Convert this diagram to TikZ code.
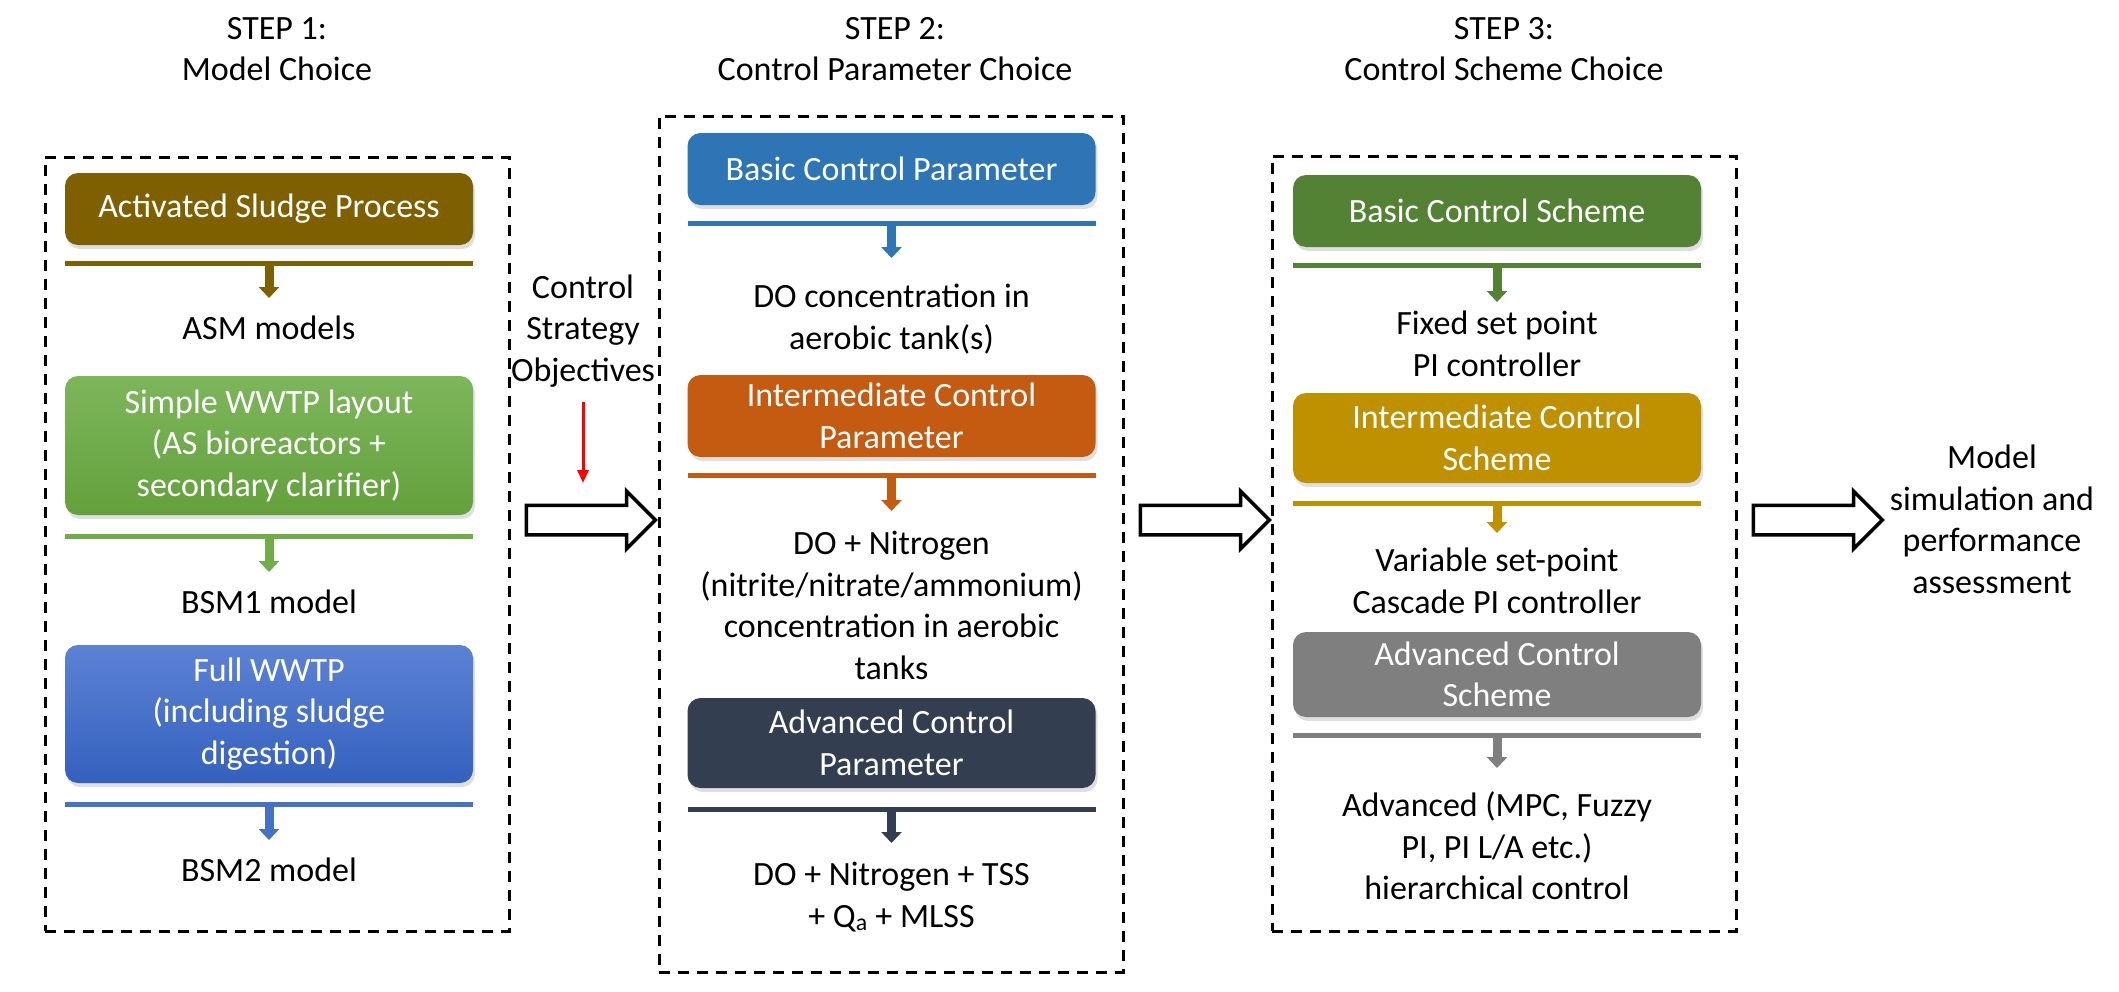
\documentclass[tikz,border=0pt]{standalone}
\usepackage{fontspec}
\setmainfont{Carlito}
\usetikzlibrary{arrows.meta,shapes.arrows,shadows}
\definecolor{cA}{HTML}{7F6000}
\definecolor{cBt}{HTML}{7DB65B}
\definecolor{cBb}{HTML}{63A13C}
\definecolor{cB}{HTML}{70AD47}
\definecolor{cCt}{HTML}{5C82D4}
\definecolor{cCb}{HTML}{3461BE}
\definecolor{cC}{HTML}{4472C4}
\definecolor{cD}{HTML}{2E75B6}
\definecolor{cE}{HTML}{C55A11}
\definecolor{cF}{HTML}{333F50}
\definecolor{cG}{HTML}{548235}
\definecolor{cH}{HTML}{BF9000}
\definecolor{cI}{HTML}{7F7F7F}
\definecolor{cRed}{HTML}{FF0000}
\begin{document}
\begin{tikzpicture}[x=1pt,y=-1pt,
  every node/.style={font=\fontsize{34}{41.5}\selectfont},
  frame/.style={draw=black, line width=3pt, dash pattern=on 11pt off 8pt, inner sep=0pt},
  cbox/.style={rounded corners=13pt, minimum width=408pt, inner sep=0pt, text=white, align=center,
    drop shadow={shadow xshift=2pt,shadow yshift=-4pt,opacity=0.25}},
  bar/.style={minimum width=408pt, minimum height=5pt, inner sep=0pt},
  txt/.style={align=center, inner sep=0pt, text=black},
  down/.style={line width=9pt, -{Triangle[length=11pt,width=20pt]}},
  redarr/.style={line width=3pt, cRed, -{Triangle[length=13pt,width=11pt]}},
  bigarrow/.style={single arrow, draw=black, fill=white, line width=3.5pt, minimum height=129pt,
    inner xsep=0pt, inner ysep=13pt, single arrow head extend=14pt, single arrow tip angle=90}
]
\useasboundingbox (0,0) rectangle (2119,991);
\fill[white] (0,0) rectangle (2119,991);

% titles
\node[txt] (t1) at (277,49) {STEP 1:\\Model Choice};
\node[txt] (t2) at (895,49) {STEP 2:\\Control Parameter Choice};
\node[txt] (t3) at (1504,49) {STEP 3:\\Control Scheme Choice};

% frames
\node[frame, minimum width=464pt, minimum height=774pt] (f1) at (277,544) {};
\node[frame, minimum width=464pt, minimum height=856pt] (f2) at (891,544) {};
\node[frame, minimum width=464pt, minimum height=775pt] (f3) at (1504,543.5) {};

% column 1
\node[cbox, fill=cA, minimum height=72pt] (a1) at (269,209) {Activated Sludge Process};
\node[bar, fill=cA] (b1) at (269,263) {};
\coordinate (p1) at (269,298);
\draw[down, cA] (b1.south) -- (p1);
\node[txt] (l1) at (269,328) {ASM models};

\node[cbox, top color=cBt, bottom color=cBb, minimum height=139pt] (a2) at (269,445.5) {Simple WWTP layout\\(AS bioreactors +\\secondary clarifier)};
\node[bar, fill=cB] (b2) at (269,536) {};
\coordinate (p2) at (269,572);
\draw[down, cB] (b2.south) -- (p2);
\node[txt] (l2) at (269,602) {BSM1 model};

\node[cbox, top color=cCt, bottom color=cCb, minimum height=138pt] (a3) at (269,714) {Full WWTP\\(including sludge\\digestion)};
\node[bar, fill=cC] (b3) at (269,804) {};
\coordinate (p3) at (269,840);
\draw[down, cC] (b3.south) -- (p3);
\node[txt] (l3) at (269,870) {BSM2 model};

% control strategy objectives
\node[txt] (cs) at (583,331) {Control\\Strategy\\Objectives};
\coordinate (r0) at (583,402);
\coordinate (r1) at (583,483);
\draw[redarr] (r0) -- (r1);

% big arrows
\node[bigarrow] (A1) at (583.5,520) {};
\node[bigarrow] (A2) at (1197.5,520) {};
\node[bigarrow] (A3) at (1810.5,520) {};

% column 2
\node[cbox, fill=cD, minimum height=72pt] (d1) at (891.5,169) {Basic Control Parameter};
\node[bar, fill=cD] (e1) at (891.5,223) {};
\coordinate (q1) at (891.5,258);
\draw[down, cD] (e1.south) -- (q1);
\node[txt] (m1) at (891.5,319) {DO concentration in\\aerobic tank(s)};

\node[cbox, fill=cE, minimum height=82pt] (d2) at (891.5,416) {Intermediate Control\\Parameter};
\node[bar, fill=cE] (e2) at (891.5,475) {};
\coordinate (q2) at (891.5,511);
\draw[down, cE] (e2.south) -- (q2);
\node[txt] (m2) at (891.5,605.5) {DO + Nitrogen\\(nitrite/nitrate/ammonium)\\concentration in aerobic\\tanks};

\node[cbox, fill=cF, minimum height=90pt] (d3) at (891.5,743) {Advanced Control\\Parameter};
\node[bar, fill=cF] (e3) at (891.5,809) {};
\coordinate (q3) at (891.5,843);
\draw[down, cF] (e3.south) -- (q3);
\node[txt] (m3) at (891.5,897) {DO + Nitrogen + TSS\\+ Q\textsubscript{a} + MLSS};

% column 3
\node[cbox, fill=cG, minimum height=72pt] (g1) at (1497,211) {Basic Control Scheme};
\node[bar, fill=cG] (h1) at (1497,265) {};
\coordinate (s1) at (1497,302);
\draw[down, cG] (h1.south) -- (s1);
\node[txt] (n1) at (1497,344) {Fixed set point\\PI controller};

\node[cbox, fill=cH, minimum height=90pt] (g2) at (1497,438) {Intermediate Control\\Scheme};
\node[bar, fill=cH] (h2) at (1497,503) {};
\coordinate (s2) at (1497,533);
\draw[down, cH] (h2.south) -- (s2);
\node[txt] (n2) at (1497,581) {Variable set-point\\Cascade PI controller};

\node[cbox, fill=cI, minimum height=85pt] (g3) at (1497,674.5) {Advanced Control\\Scheme};
\node[bar, fill=cI] (h3) at (1497,735) {};
\coordinate (s3) at (1497,768);
\draw[down, cI] (h3.south) -- (s3);
\node[txt] (n3) at (1497,846) {Advanced (MPC, Fuzzy\\PI, PI L/A etc.)\\hierarchical control};

% final text
\node[txt] (fin) at (1992,519.5) {Model\\simulation and\\performance\\assessment};
\end{tikzpicture}
\end{document}
